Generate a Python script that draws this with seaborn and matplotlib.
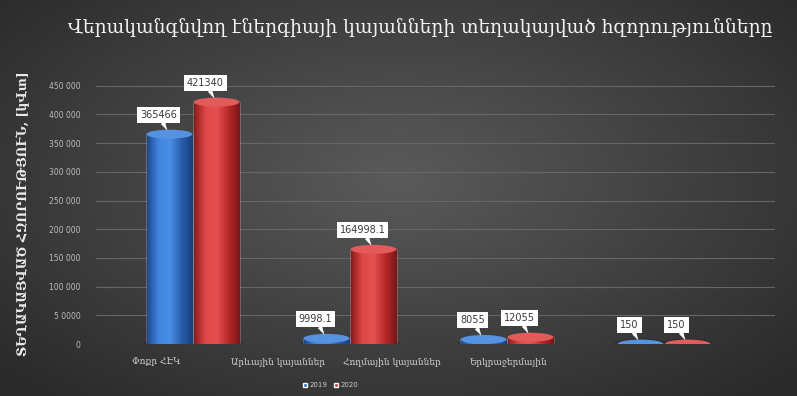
import numpy as np
import pandas as pd
import matplotlib
matplotlib.use("Agg")
import matplotlib.pyplot as plt
import matplotlib.transforms as mtransforms
from matplotlib.patches import Ellipse
import seaborn as sns

title = "Վերականգնվող էներգիայի կայանների տեղակայված հզորությունները"
ylabel = "ՏԵՂԱԿԱՅՎԱԾ ՀԶՈՐՈՒԹՅՈՒՆ, [կՎտ]"
categories = ["Փոքր ՀԷԿ", "Արևային կայաններ", "Հողմային կայաններ", "Երկրաջերմային"]
years = ["2019", "2020"]
values_2019 = [365466, 9998.1, 8055, 150]
values_2020 = [421340, 164998.1, 12055, 150]
label_2019 = ["365466", "9998.1", "8055", "150"]
label_2020 = ["421340", "164998.1", "12055", "150"]
yticks = [0, 50000, 100000, 150000, 200000, 250000, 300000, 350000, 400000, 450000]
ytick_labels = ["0", "5 0000", "100 000", "150 000", "200 000", "250 000",
                "300 000", "350 000", "400 000", "450 000"]

df = pd.DataFrame({
    "category": categories * 2,
    "year": [years[0]] * 4 + [years[1]] * 4,
    "value": values_2019 + values_2020,
})
labels = {years[0]: label_2019, years[1]: label_2020}
palette = {years[0]: "#2f6cc4", years[1]: "#d33434"}

sns.set_theme(style="dark")
plt.rcParams["font.family"] = ["DejaVu Serif", "DejaVu Sans"]

fig = plt.figure(figsize=(7.97, 3.96), dpi=100)

# dark radial backdrop
bg = fig.add_axes([0, 0, 1, 1], zorder=-10)
gx, gy = np.meshgrid(np.linspace(-1, 1, 400), np.linspace(-1, 1, 200))
r = np.sqrt((gx / 1.0) ** 2 + ((gy + 0.1) / 1.1) ** 2)
shade = np.clip(1 - r / 1.35, 0, 1)
bg.imshow(shade, cmap=matplotlib.colors.LinearSegmentedColormap.from_list(
    "bgc", ["#2a2a2a", "#5a5a5a"]), aspect="auto", extent=[0, 1, 0, 1])
bg.axis("off")

ax = fig.add_axes([0.12, 0.131, 0.853, 0.66])
ax.set_facecolor("none")
sns.barplot(data=df, x="category", y="value", hue="year", palette=palette,
            width=0.6, gap=0.03, saturation=1, ax=ax, legend=False, zorder=3)

ax.set_xlim(-0.62, 3.71)
ax.set_ylim(0, 455000)
ax.set_yticks(yticks)
ax.set_yticklabels(ytick_labels, fontsize=5.5, color="#bdbdbd", family="DejaVu Sans")
ax.tick_params(axis="y", length=0, pad=11)
ax.tick_params(axis="x", length=0, pad=9)
ax.set_xlabel("")
ax.set_ylabel(ylabel, fontsize=9, color="#ececec", labelpad=13, fontweight="bold")
ax.yaxis.grid(True, color="#666666", linewidth=0.8, zorder=0)
ax.xaxis.grid(False)
for s in ax.spines.values():
    s.set_visible(False)

# category labels sit left of their groups (perspective floor)
ax.set_xticks(range(len(categories)))
ax.set_xticklabels(categories, fontsize=6.5, color="#cfcfcf")
shifts = [-37, -72, -115, -155]
for lab, dx in zip(ax.get_xticklabels(), shifts):
    lab.set_transform(lab.get_transform() + mtransforms.ScaledTranslation(dx / 100, 0, fig.dpi_scale_trans))

# cylinder shading and value callouts
ppy = (ax.get_position().height * fig.get_figheight() * fig.dpi) / 455000
cyl = {
    years[0]: matplotlib.colors.LinearSegmentedColormap.from_list("b", ["#1d4a8f", "#3f86e0", "#4a8fe6", "#2a5fae", "#183f7c"]),
    years[1]: matplotlib.colors.LinearSegmentedColormap.from_list("r", ["#8e1c1c", "#e04848", "#e55050", "#b82a2a", "#7a1616"]),
}
tops = {years[0]: "#5593e0", years[1]: "#e25a5a"}
for cont, yr in zip(ax.containers, years):
    for patch, txt in zip(cont.patches, labels[yr]):
        x0 = patch.get_x()
        w = patch.get_width()
        h = patch.get_height()
        grad = np.linspace(0, 1, 64).reshape(1, -1)
        im = ax.imshow(grad, cmap=cyl[yr], aspect="auto", extent=[x0, x0 + w, 0, h], zorder=4)
        im.set_clip_path(patch)
        eh = 9 / ppy
        ax.add_patch(Ellipse((x0 + w / 2, h), w, eh, fc=tops[yr], ec="none", zorder=5))
        ax.add_patch(Ellipse((x0 + w / 2, 0), w * 1.15, eh * 1.2, fc="#202020", ec="none", alpha=0.5, zorder=2))
        ax.annotate(txt, xy=(x0 + w / 2, h), xytext=(-8, 14), textcoords="offset points",
                    ha="center", va="center", fontsize=7, color="#3a3a3a", family="DejaVu Sans",
                    bbox=dict(boxstyle="square,pad=0.3", fc="white", ec="none"),
                    arrowprops=dict(arrowstyle="wedge,tail_width=0.5", fc="white", ec="none",
                                    shrinkA=0, shrinkB=3), zorder=6)

fig.text(0.527, 0.93, title, ha="center", va="center", fontsize=13.4, color="#f2f2f2")

handles = [plt.Rectangle((0, 0), 1, 1, fc=palette[y]) for y in years]
fig.legend(handles, years, loc="center", bbox_to_anchor=(0.415, 0.027), ncol=2,
           frameon=False, labelcolor="#cccccc", handlelength=0.6, handleheight=0.6,
           columnspacing=1.0, handletextpad=0.3, prop={"family": "DejaVu Sans", "size": 5})

fig.savefig("out.png", dpi=100)
